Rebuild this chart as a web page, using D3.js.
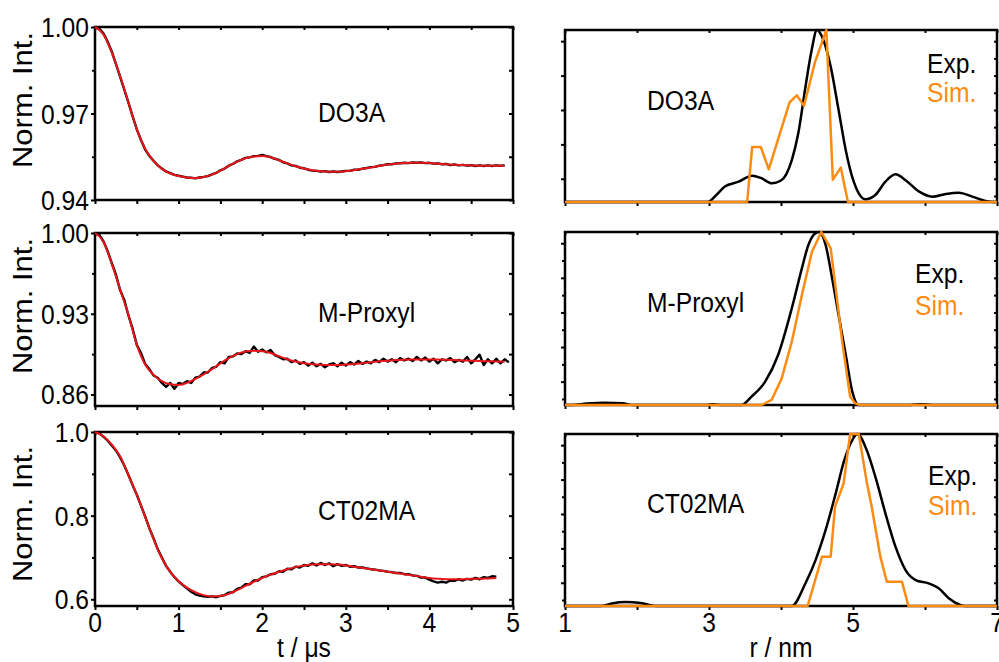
<!DOCTYPE html>
<html><head><meta charset="utf-8">
<script src="https://cdn.jsdelivr.net/npm/d3@7"></script>
<style>body{margin:0;background:#fff} svg{display:block} text{font-family:"Liberation Sans",Arial,sans-serif}</style>
</head><body><svg id="c" width="999" height="662"></svg>
<script>
// ---------- DATA ----------
const panelNames = ["DO3A","M-Proxyl","CT02MA"];
const tFit = [0,0.1,0.2,0.3,0.4,0.5,0.6,0.7,0.8,0.9,1,1.1,1.2,1.3,1.4,1.5,1.6,1.7,1.8,1.9,2,2.1,2.2,2.3,2.4,2.5,2.6,2.7,2.8,2.9,3,3.1,3.2,3.3,3.4,3.5,3.6,3.7,3.8,3.9,4,4.1,4.2,4.3,4.4,4.5,4.6,4.7,4.8,4.9];
const tExp = [0,0.05,0.1,0.15,0.2,0.25,0.3,0.35,0.4,0.45,0.5,0.55,0.6,0.65,0.7,0.75,0.8,0.85,0.9,0.95,1,1.05,1.1,1.15,1.2,1.25,1.3,1.35,1.4,1.45,1.5,1.55,1.6,1.65,1.7,1.75,1.8,1.85,1.9,1.95,2,2.05,2.1,2.15,2.2,2.25,2.3,2.35,2.4,2.45,2.5,2.55,2.6,2.65,2.7,2.75,2.8,2.85,2.9,2.95,3,3.05,3.1,3.15,3.2,3.25,3.3,3.35,3.4,3.45,3.5,3.55,3.6,3.65,3.7,3.75,3.8,3.85,3.9,3.95,4,4.05,4.1,4.15,4.2,4.25,4.3,4.35,4.4,4.45,4.5,4.55,4.6,4.65,4.7,4.75,4.8,4.85,4.9,4.95];

const fitDO3A = [1.0000,0.9975,0.9912,0.9830,0.9738,0.9645,0.9578,0.9535,0.9508,0.9492,0.9483,0.9478,0.9476,0.9480,0.9488,0.9502,0.9518,0.9533,0.9545,0.9551,0.9553,0.9548,0.9538,0.9527,0.9517,0.9509,0.9503,0.9500,0.9498,0.9498,0.9500,0.9504,0.9508,0.9513,0.9518,0.9523,0.9526,0.9528,0.9529,0.9529,0.9528,0.9526,0.9524,0.9522,0.9521,0.9520,0.9519,0.9519,0.9519,0.9519];
const fitMProxyl = [1.000,0.9925,0.9735,0.951,0.929,0.903,0.886,0.877,0.8715,0.8688,0.8682,0.8700,0.8735,0.8775,0.8820,0.8870,0.8915,0.8950,0.8972,0.8978,0.8975,0.8960,0.8932,0.8905,0.8885,0.8870,0.8862,0.8858,0.8856,0.8856,0.8859,0.8864,0.8872,0.8880,0.8887,0.8893,0.8898,0.8901,0.8903,0.8904,0.8904,0.8903,0.8900,0.8898,0.8895,0.8893,0.8890,0.8888,0.8886,0.8884];
const fitCT02MA = [1.000,0.990,0.970,0.942,0.897,0.850,0.797,0.744,0.698,0.665,0.643,0.628,0.617,0.610,0.607,0.608,0.613,0.622,0.632,0.642,0.651,0.659,0.666,0.672,0.677,0.681,0.683,0.684,0.684,0.683,0.681,0.678,0.675,0.672,0.669,0.666,0.663,0.660,0.657,0.654,0.651,0.649,0.648,0.648,0.648,0.649,0.649,0.650,0.651];

const expDO3A = [1.0000,0.9995,0.9978,0.9950,0.9915,0.9872,0.9828,0.9783,0.9738,0.9690,
0.9645,0.9608,0.9575,0.9553,0.9536,0.9520,0.9509,0.9499,0.9493,0.9487,
0.9484,0.9481,0.9478,0.9477,0.9475,0.9478,0.9480,0.9483,0.9489,0.9494,
0.9503,0.9509,0.9519,0.9525,0.9534,0.9539,0.9546,0.9548,0.9552,0.9553,
0.9556,0.9552,0.9549,0.9543,0.9539,0.9531,0.9527,0.9520,0.9518,0.9512,
0.9510,0.9505,0.9502,0.9501,0.9499,0.9500,0.9497,0.9499,0.9497,0.9499,
0.9501,0.9501,0.9505,0.9505,0.9509,0.9511,0.9514,0.9515,0.9519,0.9521,
0.9524,0.9524,0.9527,0.9527,0.9529,0.9528,0.9530,0.9529,0.9530,0.9528,
0.9529,0.9526,0.9527,0.9524,0.9525,0.9521,0.9523,0.9520,0.9522,0.9519,
0.9521,0.9518,0.9520,0.9518,0.9520,0.9518,0.9520,0.9519,0.9520];
const expMProxyl = [1.000,0.9985,0.9930,0.9845,0.9740,0.9640,0.9505,0.9420,0.9285,0.9170,
0.9030,0.8960,0.8865,0.8820,0.8765,0.8745,0.8700,0.8665,0.8700,0.8650,
0.8700,0.8690,0.8715,0.8700,0.8745,0.8755,0.8790,0.8790,0.8830,0.8840,
0.8880,0.8870,0.8925,0.8930,0.8955,0.8950,0.8975,0.8960,0.9015,0.8970,
0.8990,0.8965,0.8985,0.8940,0.8925,0.8905,0.8910,0.8880,0.8895,0.8865,
0.8880,0.8850,0.8875,0.8845,0.8865,0.8835,0.8860,0.8870,0.8845,0.8875,
0.8850,0.8880,0.8860,0.8890,0.8865,0.8885,0.8870,0.8900,0.8880,0.8910,
0.8885,0.8905,0.8880,0.8915,0.8895,0.8910,0.8890,0.8925,0.8895,0.8920,
0.8885,0.8910,0.8870,0.8905,0.8895,0.8915,0.8880,0.8900,0.8885,0.8925,
0.8870,0.8905,0.8945,0.8855,0.8905,0.8870,0.8910,0.8870,0.8905,0.8880];
const expCT02MA = [1.000,0.997,0.989,0.980,0.968,0.956,0.940,0.920,0.897,0.873,
0.850,0.824,0.798,0.770,0.746,0.720,0.700,0.680,0.666,0.653,
0.643,0.634,0.626,0.618,0.612,0.609,0.607,0.606,0.607,0.605,
0.608,0.610,0.616,0.617,0.625,0.628,0.636,0.636,0.645,0.645,
0.653,0.655,0.660,0.661,0.667,0.666,0.673,0.672,0.678,0.676,
0.682,0.680,0.686,0.681,0.687,0.682,0.686,0.679,0.684,0.680,
0.682,0.678,0.679,0.676,0.676,0.674,0.672,0.671,0.669,0.668,
0.666,0.665,0.663,0.663,0.660,0.660,0.657,0.656,0.652,0.652,
0.647,0.643,0.640,0.642,0.640,0.645,0.644,0.648,0.645,0.649,
0.647,0.651,0.648,0.653,0.651,0.655,0.654];

// left y ticks
const yMajorDO3A = [0.94,0.97,1.00], yLabelDO3A = ["0.94","0.97","1.00"], yMinorDO3A = [0.955,0.985];
const yMajorMProxyl = [0.86,0.93,1.00], yLabelMProxyl = ["0.86","0.93","1.00"], yMinorMProxyl = [0.895,0.965];
const yMajorCT02MA = [0.6,0.8,1.0], yLabelCT02MA = ["0.6","0.8","1.0"], yMinorCT02MA = [0.7,0.9];
const yDomainDO3A = [0.94,1.00], yDomainMProxyl = [0.85,1.00], yDomainCT02MA = [0.584,1.00];
const tTicks = [0,0.5,1,1.5,2,2.5,3,3.5,4,4.5,5];
const tTickLabels = ["0","1","2","3","4","5"];

// right panels: distance distributions
const rExpDO3A = [1,2.98,3.1,3.22,3.41,3.6,3.72,3.87,4.0,4.15,4.24,4.34,4.42,4.5,4.59,4.69,4.80,4.90,5.01,5.08,5.17,5.31,5.45,5.59,5.73,5.92,6.1,6.29,6.47,6.66,6.84,6.96,7];
const pExpDO3A = [0,0,0.04,0.09,0.118,0.153,0.14,0.109,0.125,0.244,0.40,0.67,0.87,1.0,0.94,0.787,0.535,0.30,0.118,0.05,0.016,0.041,0.118,0.161,0.127,0.06,0.031,0.047,0.054,0.031,0.006,0,0];
const rSimDO3A = [1,3.53,3.60,3.72,3.83,4.12,4.22,4.32,4.47,4.63,4.72,4.83,4.93,7];
const pSimDO3A = [0,0,0.32,0.32,0.19,0.58,0.62,0.56,0.81,1.0,0.13,0.20,0,0];

const rExpMProxyl = [1,1.1,1.3,1.55,1.8,1.95,2.95,3.05,3.2,3.45,3.59,3.78,3.96,4.15,4.29,4.38,4.47,4.53,4.62,4.71,4.80,4.90,4.99,5.08,5.8,5.95,6.1,7];
const pExpMProxyl = [0,0,0.008,0.013,0.01,0,0,0.004,0,0,0.048,0.135,0.289,0.559,0.79,0.925,0.99,1.0,0.925,0.732,0.52,0.289,0.077,0,0,0.005,0,0];
const rSimMProxyl = [1,3.73,3.87,4.01,4.15,4.29,4.43,4.56,4.69,4.76,4.85,4.96,5.03,5.1,7];
const pSimMProxyl = [0,0,0.029,0.154,0.366,0.636,0.886,1.0,0.906,0.674,0.366,0.048,0.01,0,0];

const rExpCT02MA = [1,1.5,1.65,1.84,2.05,2.27,4.15,4.34,4.48,4.62,4.76,4.88,4.99,5.06,5.19,5.31,5.45,5.59,5.73,5.87,6.05,6.19,6.33,6.49,6.55,7];
const pExpCT02MA = [0,0,0.015,0.023,0.018,0,0,0.132,0.267,0.442,0.655,0.849,0.965,1.0,0.907,0.752,0.539,0.345,0.209,0.151,0.132,0.103,0.045,0.006,0,0];
const rSimCT02MA = [1,4.37,4.57,4.69,4.75,4.87,4.96,5.08,5.19,5.26,5.38,5.47,5.68,5.77,7];
const pSimCT02MA = [0,0,0.287,0.287,0.577,0.713,1.0,1.0,0.723,0.577,0.287,0.141,0.141,0,0];

const rTicks = [1,2,3,4,5,6,7];
const rTickLabelVals = [1,3,5,7];
const pMajor = [0.135,0.335,0.535,0.735,0.935];
const pMinor = [0.035,0.235,0.435,0.635,0.835];

// ---------- DRAWING ----------
const svg = d3.select('#c');
const SX = 0.88;
const RED = '#e8161a', ORANGE = '#fb8b12';

function txt(x, y, s, o = {}) {
  return svg.append('text')
    .attr('transform', `translate(${x},${y}) scale(${SX},1)` + (o.rot ? ' rotate(-90)' : ''))
    .attr('text-anchor', o.anchor || 'start')
    .attr('font-size', o.size || 28)
    .attr('fill', o.fill || '#000')
    .text(s);
}
function tickAxis(gen, scale, vals, size, tx, ty) {
  const g = svg.append('g').attr('transform', `translate(${tx},${ty})`)
    .call(gen(scale).tickValues(vals).tickSize(size).tickFormat(''));
  g.select('.domain').remove();
  g.selectAll('.tick line').attr('stroke', '#000').attr('stroke-width', 2);
  return g;
}

const leftCfg = [
  {top:27, bot:200, dom:yDomainDO3A, maj:yMajorDO3A, lab:yLabelDO3A, min:yMinorDO3A, fit:fitDO3A, exp:expDO3A, name:panelNames[0], ny:122, ly:100},
  {top:233, bot:406, dom:yDomainMProxyl, maj:yMajorMProxyl, lab:yLabelMProxyl, min:yMinorMProxyl, fit:fitMProxyl, exp:expMProxyl, name:panelNames[1], ny:322, ly:306},
  {top:432, bot:606, dom:yDomainCT02MA, maj:yMajorCT02MA, lab:yLabelCT02MA, min:yMinorCT02MA, fit:fitCT02MA, exp:expCT02MA, name:panelNames[2], ny:520, ly:514}
];
const xT = d3.scaleLinear().domain([0,5]).range([95,513]);

leftCfg.forEach((c, i) => {
  const y = d3.scaleLinear().domain(c.dom).range([c.bot, c.top]);
  // ticks
  tickAxis(d3.axisBottom, xT, tTicks, 4, 0, c.bot);
  tickAxis(d3.axisTop, xT, tTicks, -3, 0, c.top);
  tickAxis(d3.axisLeft, y, c.maj, 4, xT(0), 0);
  tickAxis(d3.axisLeft, y, c.min, 3, xT(0), 0);
  tickAxis(d3.axisRight, y, c.maj.concat(c.min), -4, xT(5), 0);
  // frame
  svg.append('rect').attr('x', xT(0)).attr('y', c.top).attr('width', xT(5)-xT(0)).attr('height', c.bot-c.top)
    .attr('fill','none').attr('stroke','#000').attr('stroke-width',2.5);
  // curves
  const expPts = c.exp.map((v,k) => [tExp[k], v]);
  const fitPts = c.fit.map((v,k) => [tFit[k], v]);
  svg.append('path').datum(expPts)
    .attr('d', d3.line().x(d=>xT(d[0])).y(d=>y(d[1])))
    .attr('fill','none').attr('stroke','#000').attr('stroke-width',2.4).attr('stroke-linejoin','round');
  svg.append('path').datum(fitPts)
    .attr('d', d3.line().curve(d3.curveMonotoneX).x(d=>xT(d[0])).y(d=>y(d[1])))
    .attr('fill','none').attr('stroke',RED).attr('stroke-width',2);
  // labels
  c.maj.forEach((v,k) => txt(89, y(v)+10, c.lab[k], {anchor:'end'}));
  txt(318, c.ny, c.name);
  txt(31.5, c.ly, 'Norm. Int.', {anchor:'middle', rot:true, size:31});
});
tTickLabels.forEach(s => txt(xT(+s), 632, s, {anchor:'middle'}));
txt(xT(2.5), 657, 't / \u03bcs', {anchor:'middle'});

const rightCfg = [
  {top:30, bot:202, rE:rExpDO3A, pE:pExpDO3A, rS:rSimDO3A, pS:pSimDO3A, name:panelNames[0], ny:110, ex:927, ey:73, sy:102, leftMinor:false},
  {top:232, bot:405, rE:rExpMProxyl, pE:pExpMProxyl, rS:rSimMProxyl, pS:pSimMProxyl, name:panelNames[1], ny:312, ex:915, ey:283, sy:315, leftMinor:true},
  {top:434, bot:606, rE:rExpCT02MA, pE:pExpCT02MA, rS:rSimCT02MA, pS:pSimCT02MA, name:panelNames[2], ny:513, ex:928, ey:485, sy:515, leftMinor:true}
];
const xR = d3.scaleLinear().domain([1,7]).range([565,997]);

rightCfg.forEach(c => {
  const y = d3.scaleLinear().domain([0,1]).range([c.bot, c.top]);
  tickAxis(d3.axisBottom, xR, rTicks, 4, 0, c.bot);
  tickAxis(d3.axisTop, xR, rTicks, -3, 0, c.top);
  tickAxis(d3.axisLeft, y, pMajor, 4, xR(1), 0);
  if (c.leftMinor) tickAxis(d3.axisLeft, y, pMinor, 3, xR(1), 0);
  tickAxis(d3.axisRight, y, pMajor.concat(pMinor), -3, xR(7), 0);
  svg.append('rect').attr('x', xR(1)).attr('y', c.top).attr('width', xR(7)-xR(1)).attr('height', c.bot-c.top)
    .attr('fill','none').attr('stroke','#000').attr('stroke-width',2.5);
  const eP = c.pE.map((v,k)=>[c.rE[k], v]);
  const sP = c.pS.map((v,k)=>[c.rS[k], v]);
  svg.append('path').datum(eP)
    .attr('d', d3.line().curve(d3.curveMonotoneX).x(d=>xR(d[0])).y(d=>y(d[1])))
    .attr('fill','none').attr('stroke','#000').attr('stroke-width',2.5);
  svg.append('path').datum(sP)
    .attr('d', d3.line().x(d=>xR(d[0])).y(d=>y(d[1])))
    .attr('fill','none').attr('stroke',ORANGE).attr('stroke-width',2.5).attr('stroke-linejoin','round');
  txt(647, c.ny, c.name);
  txt(c.ex, c.ey, 'Exp.');
  txt(c.ex, c.sy, 'Sim.', {fill:ORANGE});
});
rTickLabelVals.forEach(v => txt(xR(v), 632, String(v), {anchor:'middle'}));
txt(xR(4), 657, 'r / nm', {anchor:'middle'});
</script></body></html>
